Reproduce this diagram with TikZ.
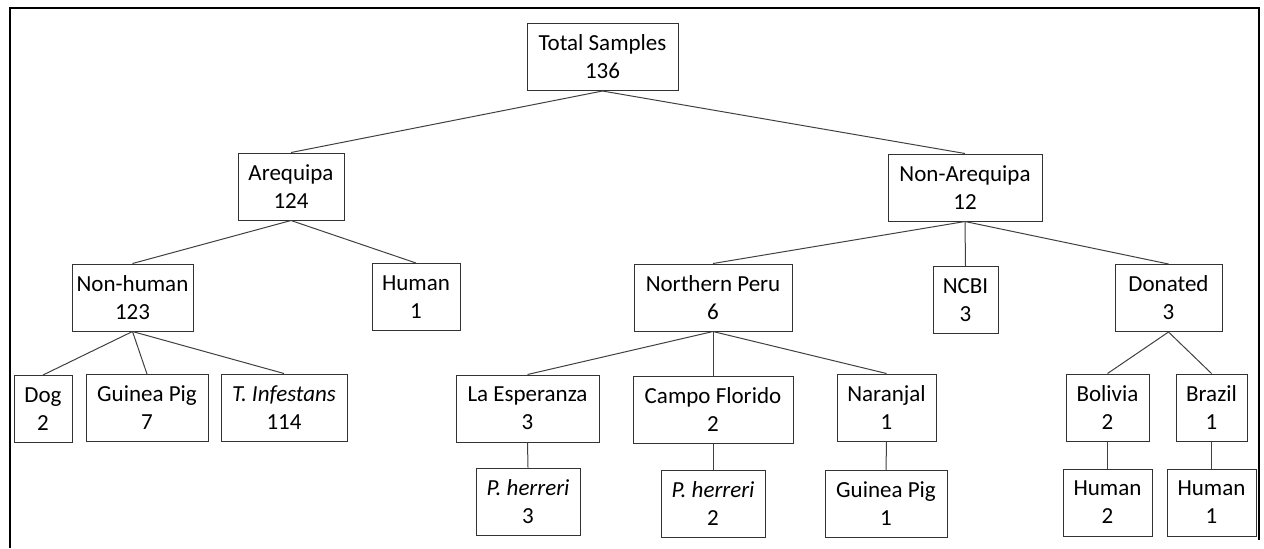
\documentclass[tikz,border=0pt]{standalone}
\usepackage{fontspec}
\setmainfont{Carlito}
\usepackage{tikz}

\begin{document}
\begin{tikzpicture}[x=0.5pt,y=-0.5pt,
bx/.style={rectangle,draw=black!80,line width=0.5pt,fill=white,align=center,inner sep=1pt,minimum height=33.5pt,font=\fontsize{11.5}{14}\selectfont},
ln/.style={draw=black!75,line width=0.5pt}]
	\useasboundingbox (0,0) rectangle (1264,548);
	%frame
	\draw[line width=1.4pt] (10,548) -- (10,8) -- (1259,8) -- (1259,540);

	%root
	\node[bx,minimum width=75.5pt] at (602.5,57) (total) {Total Samples\\136};
	%regions
	\node[bx,minimum width=53pt] at (291,186.5) (areq) {Arequipa\\124};
	\node[bx,minimum width=77pt] at (965,187.5) (nonareq) {Non-Arequipa\\12};
	%arequipa hosts
	\node[bx,minimum width=60.5pt] at (132.5,297.5) (nonhum) {Non-human\\123};
	\node[bx,minimum width=44pt] at (416,297) (hum) {Human\\1};
	\node[bx,minimum width=29pt] at (43,409) (dog) {Dog\\2};
	\node[bx,minimum width=61pt] at (147,408) (gpig) {Guinea Pig\\7};
	\node[bx,minimum width=63pt] at (284,407.5) (tinf) {\textit{T. Infestans}\\114};
	%non-arequipa sources
	\node[bx,minimum width=79pt] at (713,297.5) (north) {Northern Peru\\6};
	\node[bx,minimum width=32.5pt] at (965.5,300) (ncbi) {NCBI\\3};
	\node[bx,minimum width=53.5pt] at (1168.5,298) (don) {Donated\\3};
	%northern peru sites
	\node[bx,minimum width=71.5pt] at (527.5,408.5) (esp) {La Esperanza\\3};
	\node[bx,minimum width=80pt] at (713,409.5) (campo) {Campo Florido\\2};
	\node[bx,minimum width=49.5pt] at (886.5,407.5) (nar) {Naranjal\\1};
	\node[bx,minimum width=52pt] at (528,501.5) (esph) {\textit{P. herreri}\\3};
	\node[bx,minimum width=52pt] at (713,503.5) (campoh) {\textit{P. herreri}\\2};
	\node[bx,minimum width=61pt] at (886,504) (narg) {Guinea Pig\\1};
	%donated
	\node[bx,minimum width=41.5pt] at (1107.5,407.5) (bol) {Bolivia\\2};
	\node[bx,minimum width=35.5pt] at (1211.5,407.5) (bra) {Brazil\\1};
	\node[bx,minimum width=44.5pt] at (1107.5,502.5) (bolh) {Human\\2};
	\node[bx,minimum width=44.5pt] at (1211.5,502.5) (brah) {Human\\1};

	%connectors
	\draw[ln] (total.south) -- (areq.north);
	\draw[ln] (total.south) -- (nonareq.north);
	\draw[ln] (areq.south) -- (nonhum.north);
	\draw[ln] (areq.south) -- (hum.north);
	\draw[ln] (nonhum.south) -- (dog.north);
	\draw[ln] (nonhum.south) -- (gpig.north);
	\draw[ln] (nonhum.south) -- (tinf.north);
	\draw[ln] (nonareq.south) -- (north.north);
	\draw[ln] (nonareq.south) -- (ncbi.north);
	\draw[ln] (nonareq.south) -- (don.north);
	\draw[ln] (north.south) -- (esp.north);
	\draw[ln] (north.south) -- (campo.north);
	\draw[ln] (north.south) -- (nar.north);
	\draw[ln] (esp.south) -- (esph.north);
	\draw[ln] (campo.south) -- (campoh.north);
	\draw[ln] (nar.south) -- (narg.north);
	\draw[ln] (don.south) -- (bol.north);
	\draw[ln] (don.south) -- (bra.north);
	\draw[ln] (bol.south) -- (bolh.north);
	\draw[ln] (bra.south) -- (brah.north);
\end{tikzpicture}
\end{document}
